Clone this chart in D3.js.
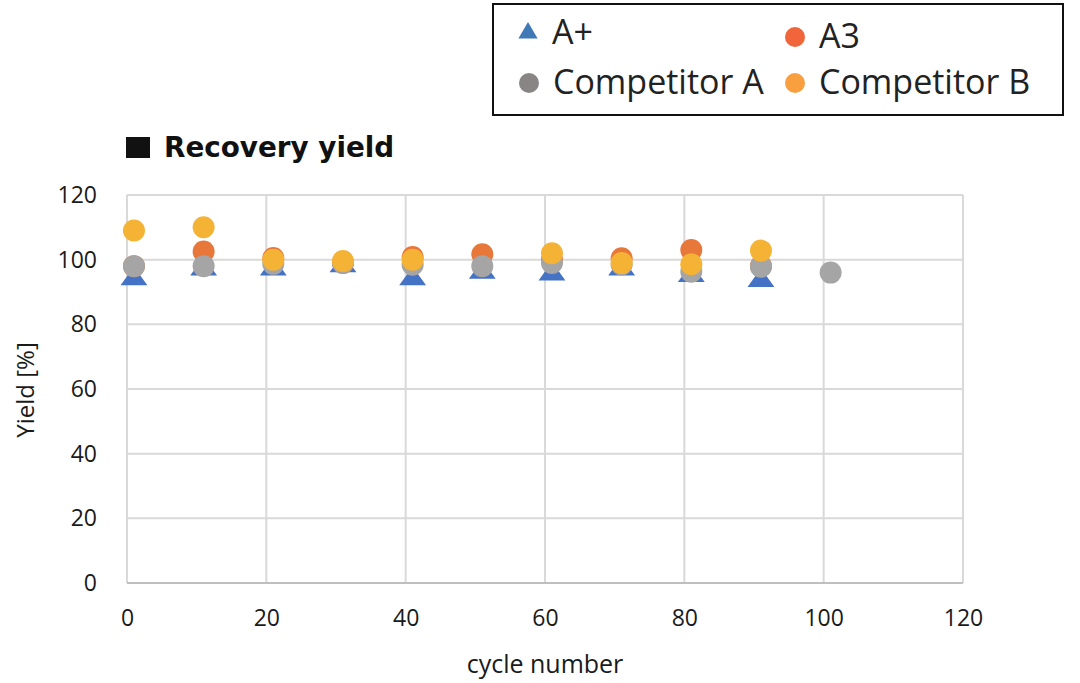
<!DOCTYPE html>
<html><head><meta charset="utf-8">
<script src="https://cdn.jsdelivr.net/npm/d3@7"></script>
<style>body{margin:0;background:#fff}svg{display:block}</style>
</head><body>
<svg id="c" width="1080" height="683"></svg>
<script>
const cycles = [1, 11, 21, 31, 41, 51, 61, 71, 81, 91, 101];
const aPlus = [94, 97, 97, 98, 94, 96, 95.5, 97, 95, 93.5, null];
const a3 = [98, 102.5, 100.5, 99, 100.8, 101.7, 100, 100.4, 103, 98, null];
const competitorA = [98, 98, 98.7, 99, 98.4, 98, 99, 98.5, 96.3, 97.8, 96];
const competitorB = [109, 110, 100, 99.6, 100, null, 102, 99, 98.6, 102.8, null];
const xTicks = [0, 20, 40, 60, 80, 100, 120];
const yTicks = [0, 20, 40, 60, 80, 100, 120];

const svg = d3.select("#c");
const font = "'Open Sans', sans-serif";
const x = d3.scaleLinear().domain([0, 120]).range([127, 963]);
const y = d3.scaleLinear().domain([0, 120]).range([583, 195]);

// grid
svg.append("g").selectAll("line").data(xTicks).join("line")
  .attr("x1", d => x(d)).attr("x2", d => x(d)).attr("y1", y(120)).attr("y2", y(0))
  .attr("stroke", "#d9d9d9").attr("stroke-width", 2);
svg.append("g").selectAll("line").data(yTicks).join("line")
  .attr("x1", x(0)).attr("x2", x(120)).attr("y1", d => y(d)).attr("y2", d => y(d))
  .attr("stroke", d => d === 0 ? "#bfbfbf" : "#d9d9d9").attr("stroke-width", 2);

// axes
const xa = svg.append("g").attr("transform", `translate(0,${y(0)})`)
  .call(d3.axisBottom(x).tickValues(xTicks).tickSize(0).tickPadding(27));
xa.select(".domain").remove();
xa.selectAll("text").attr("font-family", font).attr("font-size", 23).attr("fill", "#1a1a1a");
const ya = svg.append("g").attr("transform", `translate(${x(0)},0)`)
  .call(d3.axisLeft(y).tickValues(yTicks).tickSize(0).tickPadding(30));
ya.select(".domain").remove();
ya.selectAll("text").attr("font-family", font).attr("font-size", 23).attr("fill", "#1a1a1a");

svg.append("text").attr("x", 545).attr("y", 673).attr("text-anchor", "middle")
  .attr("font-family", font).attr("font-size", 25).attr("fill", "#1a1a1a").text("cycle number");
svg.append("text").attr("transform", "translate(34,390) rotate(-90)").attr("text-anchor", "middle")
  .attr("font-family", font).attr("font-size", 24).attr("fill", "#1a1a1a").text("Yield [%]");

// title
svg.append("rect").attr("x", 126).attr("y", 137).attr("width", 24).attr("height", 21).attr("fill", "#111");
svg.append("text").attr("x", 164).attr("y", 157).attr("font-family", "'DejaVu Sans', sans-serif").attr("font-weight", "bold")
  .attr("font-size", 27.8).attr("fill", "#111").text("Recovery yield");

// series
const tri = d3.symbol().type(d3.symbolTriangle).size(200);
const pts = arr => cycles.map((c, i) => ({c, v: arr[i]})).filter(d => d.v != null);
svg.append("g").selectAll("path").data(pts(aPlus)).join("path")
  .attr("d", tri).attr("transform", d => `translate(${x(d.c)},${y(d.v)}) scale(1.25,1)`)
  .attr("fill", "#4472C4");
const circ = (arr, col) => svg.append("g").selectAll("circle").data(pts(arr)).join("circle")
  .attr("cx", d => x(d.c)).attr("cy", d => y(d.v)).attr("r", 11).attr("fill", col);
circ(a3, "#E8773A");
circ(competitorA, "#A5A5A5");
circ(competitorB, "#F5B335");

// legend
svg.append("rect").attr("x", 493).attr("y", 4).attr("width", 570).attr("height", 111)
  .attr("fill", "#fff").attr("stroke", "#111").attr("stroke-width", 2);
const lg = [
  {name: "A+", col: "#3F7AB6", shape: "tri", x: 528, y: 33},
  {name: "A3", col: "#F0653A", shape: "c", x: 795, y: 37},
  {name: "Competitor A", col: "#8A8585", shape: "c", x: 529, y: 83},
  {name: "Competitor B", col: "#F8A040", shape: "c", x: 795, y: 83}
];
lg.forEach(d => {
  if (d.shape === "tri") svg.append("path").attr("d", d3.symbol().type(d3.symbolTriangle).size(160))
    .attr("transform", `translate(${d.x},${d.y})`).attr("fill", d.col);
  else svg.append("circle").attr("cx", d.x).attr("cy", d.y).attr("r", 10).attr("fill", d.col);
  svg.append("text").attr("x", d.x + 24).attr("y", d.y + 11)
    .attr("font-family", font).attr("font-size", 34).attr("fill", "#222").text(d.name);
});
</script>
</body></html>
